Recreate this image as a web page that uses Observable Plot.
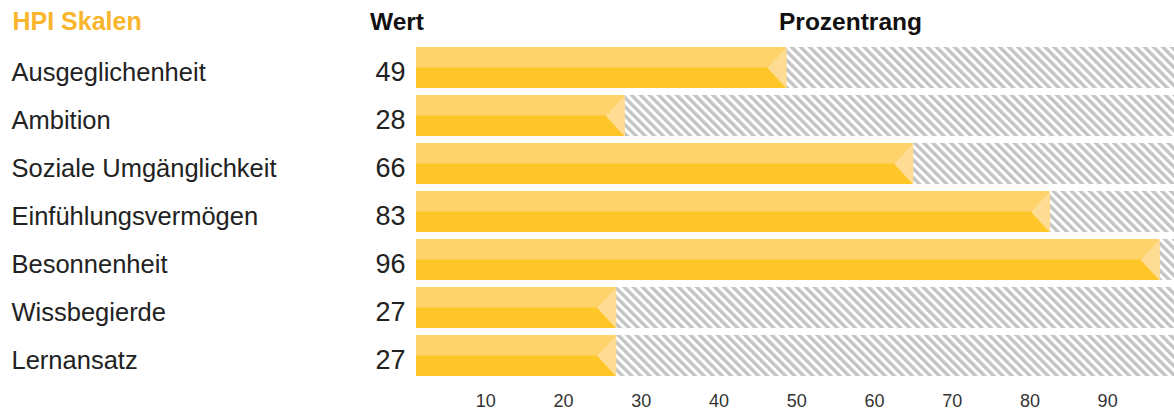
<!DOCTYPE html>
<html><head><meta charset="utf-8">
<script src="https://cdn.jsdelivr.net/npm/d3@7"></script>
<script src="https://cdn.jsdelivr.net/npm/@observablehq/plot@0.6"></script>
<style>body{margin:0;background:#fff;overflow:hidden}</style>
</head><body><div id="chart"></div>
<script>
const scales = ["Ausgeglichenheit","Ambition","Soziale Umgänglichkeit","Einfühlungsvermögen","Besonnenheit","Wissbegierde","Lernansatz"];
const values = [49,28,66,83,96,27,27];
const percentRanks = [48.7,27.9,65.0,82.6,96.7,26.8,26.8];
const tickValues = [10,20,30,40,50,60,70,80,90];
const headers = ["HPI Skalen","Wert","Prozentrang"];
const xMin = 1.1, xMax = 98.6;

const data = scales.map((s,i)=>({scale:s, value:values[i], rank:percentRanks[i]}));
const arrow = {draw(ctx){ctx.moveTo(0,-20.5);ctx.lineTo(-19,0);ctx.lineTo(0,20.5);ctx.closePath();}};
const font = "Liberation Sans, Arial, sans-serif";

const chart = Plot.plot({
  width:1174, height:414, marginLeft:416, marginRight:0, marginTop:0, marginBottom:24,
  style:{fontFamily:font, background:"white", color:"#333"},
  x:{domain:[xMin,xMax], axis:null},
  y:{domain:scales, range:[38,385], padding:0.155, axis:null},
  marks:[
    Plot.barX(data,{x1:xMin,x2:xMax,y:"scale",fill:"url(#hatch)"}),
    Plot.barX(data,{x1:xMin,x2:"rank",y:"scale",fill:"#FFD36B"}),
    Plot.barX(data,{x1:xMin,x2:"rank",y:"scale",fill:"#FFC629",insetTop:20.5}),
    Plot.dot(data,{x:"rank",y:"scale",symbol:arrow,fill:"#FFDC94",stroke:"none"}),
    Plot.axisX({ticks:tickValues, tickSize:0, tickPadding:4, label:null, fontSize:18, fill:"#333", textStroke:null}),
    Plot.text(data,{y:"scale",text:"scale",frameAnchor:"left",dx:-405,dy:5,textAnchor:"start",fontSize:25.5,fill:"#222"}),
    Plot.text(data,{y:"scale",text:d=>String(d.value),frameAnchor:"left",dx:-11,dy:4,textAnchor:"end",fontSize:27,fill:"#222"}),
    Plot.text([headers[0]],{frameAnchor:"top-left",dx:-404,dy:29,lineAnchor:"bottom",textAnchor:"start",fontSize:25,fontWeight:"bold",fill:"#F9B52B"}),
    Plot.text([headers[1]],{frameAnchor:"top-left",dx:-19.5,dy:29,lineAnchor:"bottom",textAnchor:"middle",fontSize:24.5,fontWeight:"bold",fill:"#111"}),
    Plot.text([headers[2]],{frameAnchor:"top-left",dx:434,dy:29,lineAnchor:"bottom",textAnchor:"middle",fontSize:24.5,fontWeight:"bold",fill:"#111"})
  ]
});
const defs = d3.select(chart).insert("defs",":first-child");
const pat = defs.append("pattern").attr("id","hatch").attr("patternUnits","userSpaceOnUse")
  .attr("width",6.4).attr("height",6.4).attr("patternTransform","rotate(-45)");
pat.append("rect").attr("width",6.4).attr("height",6.4).attr("fill","white");
pat.append("rect").attr("width",3.4).attr("height",6.4).attr("fill","#c4c4c4");
document.getElementById("chart").append(chart);
</script></body></html>
